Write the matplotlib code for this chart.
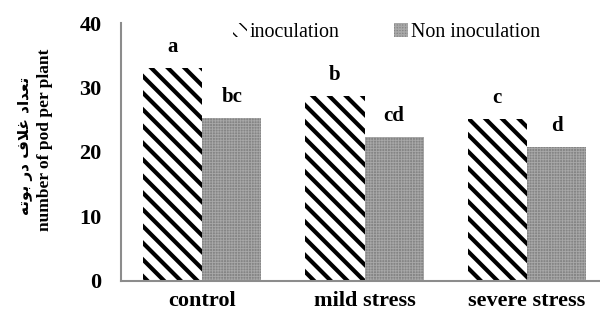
import matplotlib.pyplot as plt
import matplotlib as mpl
import numpy as np

# 데이터
groups = ['control', 'mild stress', 'severe stress']
inoculation = [33.0, 28.7, 25.1]
non_inoculation = [25.3, 22.3, 20.8]
letters_inoc = ['a', 'b', 'c']
letters_non = ['bc', 'cd', 'd']
yticks = [0, 10, 20, 30, 40]

# 페르시아어 라벨 (표시형 글리프, 시각 순서)
fa_label = '\uFEEA\uFE97\uFEEE\uFE91 \uFEAD\uFEA9 \uFED1\uFEFC\uFECF \uFEA9\uFE8D\uFEAA\uFECC\uFE97'
en_label = 'number of pod per plant'

plt.rcParams['font.family'] = ['Liberation Serif', 'DejaVu Sans']

fig = plt.figure(figsize=(6, 3.16), dpi=100)
ax = fig.add_axes([0.2017, 0.111, 0.8, 0.816])

x = np.arange(len(groups))
w = 0.365

with mpl.rc_context({'hatch.linewidth': 3.0}):
    b1 = ax.bar(x - w / 2, inoculation, w, facecolor='white', edgecolor='black',
                hatch='\\\\', linewidth=0, label='inoculation')
with mpl.rc_context({'hatch.linewidth': 0.6}):
    b2 = ax.bar(x + w / 2, non_inoculation, w, facecolor='#858585', edgecolor='#a8a8a8',
                hatch='++++++', linewidth=0, label='Non inoculation')

for i in range(len(groups)):
    ax.annotate(letters_inoc[i], (x[i] - w / 2, inoculation[i]), xytext=(0, 8),
                textcoords='offset points', ha='center', va='bottom',
                fontsize=15, fontweight='bold')
    ax.annotate(letters_non[i], (x[i] + w / 2, non_inoculation[i]), xytext=(0, 8),
                textcoords='offset points', ha='center', va='bottom',
                fontsize=15, fontweight='bold')

ax.set_xlim(-0.5, 2.457)
ax.set_ylim(0, 40)
ax.set_yticks(yticks)
ax.set_xticks(x)
ax.set_xticklabels(groups, fontsize=16, fontweight='bold')
ax.tick_params(axis='y', length=0, pad=14, labelsize=16)
ax.tick_params(axis='x', length=0, pad=7)
for lab in ax.get_yticklabels():
    lab.set_fontweight('bold')

for s in ['top', 'right']:
    ax.spines[s].set_visible(False)
for s in ['left', 'bottom']:
    ax.spines[s].set_color('#8c8c8c')
    ax.spines[s].set_linewidth(1.5)

ax.legend(loc='upper center', bbox_to_anchor=(0.553, 1.07), ncol=2, frameon=False,
          fontsize=14.4, handlelength=0.7, handleheight=0.7, handletextpad=0.15,
          columnspacing=2.7)

fig.text(0.042, 0.538, fa_label, rotation=90, ha='center', va='center',
         fontsize=11, fontweight='bold', family=['DejaVu Sans'])
fig.text(0.075, 0.557, en_label, rotation=90, ha='center', va='center',
         fontsize=12.5, fontweight='bold')

fig.savefig('out.png', dpi=100)
